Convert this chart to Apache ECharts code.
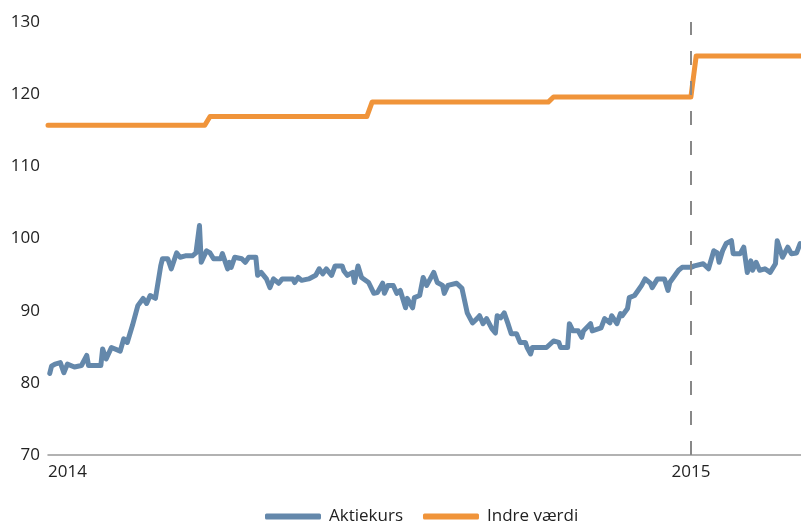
<!DOCTYPE html>
<html>
<head>
<meta charset="utf-8">
<script src="https://cdn.jsdelivr.net/npm/echarts@6/dist/echarts.min.js"></script>
<style>html,body{margin:0;padding:0;background:#fff}#c{width:801px;height:526px}</style>
</head>
<body>
<div id="c"></div>
<script>
// days since 2014-01-01
const kursDays = [1,2,4,7,9,11,15,19,20,22,23,30,31,33,36,41,43,45,48,51,54,56,58,61,62,64,65,68,70,73,75,78,82,84,86,87,90,92,94,98,99,102,103,104,106,110,112,114,118,119,121,124,126,128,131,133,139,140,142,144,148,152,153,154,156,158,161,163,167,168,170,173,174,176,178,182,185,187,190,191,193,196,198,200,203,204,207,208,211,213,215,219,221,224,225,227,232,235,238,241,244,245,247,249,252,254,255,257,259,261,263,266,268,271,272,274,275,283,287,290,291,295,296,298,301,303,304,308,309,314,316,319,320,323,325,326,329,330,333,335,337,339,342,343,346,350,352,353,358,360,365,367,372,375,378,380,381,383,385,388,389,393,395,397,399,400,402,404,407,410,413,414,417,420,422,425,427];
const kursValues = [81.3,82.3,82.6,82.8,81.4,82.6,82.2,82.4,82.4,83.8,82.4,82.4,84.7,83.3,84.9,84.4,86.1,85.6,88,90.7,91.7,91,92.1,91.7,91.8,96.2,97.2,97.2,95.8,98,97.4,97.6,97.6,98,101.8,96.7,98.3,98,97.2,97.2,97.9,95.8,96.7,96,97.4,97.2,96.7,97.4,97.4,94.9,95.3,94.4,93.2,94.4,93.8,94.4,94.4,93.9,94.6,94.2,94.4,94.9,94.9,95.8,95.1,95.8,94.9,96.2,96.2,95.5,94.9,95.3,93.9,96.2,94.6,93.9,92.4,92.5,93.8,92.4,93.5,93.5,92.4,92.8,90.4,91.7,90.4,91.8,92.1,94.6,93.5,95.3,93.9,93.5,92.4,93.5,93.8,93.1,89.7,88.3,89,89.3,88.2,88.9,87.5,86.9,89.3,89,89.7,88.3,86.8,86.8,85.6,85.6,84.9,84,84.9,84.9,85.8,85.6,84.9,84.9,88.2,87.2,87.2,86.3,87.2,88.2,87.2,87.6,88.9,88.3,89.3,88.2,89.6,89.3,90.3,91.8,92.1,92.8,93.5,94.4,93.8,93.2,94.4,94.4,92.8,93.9,95.6,96,96,96.2,96.5,95.8,98.3,98,96.7,98.3,99.3,99.7,97.9,97.9,98.8,95.3,96.9,95.6,96.7,95.6,95.8,95.3,96.5,99.7,97.4,98.8,97.9,98,99.3];
const indreDays = [0,89,92,181,184,284,287,365,368,427.5];
const indreValues = [115.7,115.7,116.9,116.9,118.9,118.9,119.6,119.6,125.3,125.3];
const yearTicks = {0:'2014',365:'2015'};
const seriesNames = ['Aktiekurs','Indre værdi'];

const zip = (a,b) => a.map((d,i)=>[d,b[i]]);
const font = '"Open Sans", sans-serif';
const chart = echarts.init(document.getElementById('c'), null, {renderer:'canvas'});
chart.setOption({
  animation:false,
  grid:{left:48,right:0,top:22,bottom:71,containLabel:false,outerBoundsMode:'none'},
  xAxis:{type:'value',min:0,max:427.5,interval:365,
    axisLine:{show:true,lineStyle:{color:'#999',width:1.5}},
    axisTick:{show:false},splitLine:{show:false},
    axisLabel:{color:'#222',fontSize:17,fontFamily:font,margin:9,alignMinLabel:'left',
      formatter:v=>yearTicks[v]||''}},
  yAxis:{type:'value',min:70,max:130,interval:10,
    axisLine:{show:false},axisTick:{show:false},splitLine:{show:false},
    axisLabel:{color:'#222',fontSize:17,fontFamily:font,margin:8}},
  legend:{data:seriesNames,left:260,top:503,icon:'roundRect',itemWidth:56,itemHeight:6,itemGap:20,
    textStyle:{color:'#222',fontSize:17,fontFamily:font,padding:[0,0,0,3]}},
  series:[
    {type:'line',name:'marker',data:[],z:1,silent:true,
      markLine:{silent:true,symbol:['none','none'],label:{show:false},
        lineStyle:{color:'#888',width:2,type:[14,16]},
        data:[{xAxis:365}]}},
    {type:'line',name:seriesNames[0],data:zip(kursDays,kursValues),showSymbol:false,z:3,
      color:'#6488ab',lineStyle:{width:5,cap:'round',join:'round'}},
    {type:'line',name:seriesNames[1],data:zip(indreDays,indreValues),showSymbol:false,z:3,
      color:'#f0943a',lineStyle:{width:5,cap:'round',join:'round'}}
  ]
});
</script>
</body>
</html>
